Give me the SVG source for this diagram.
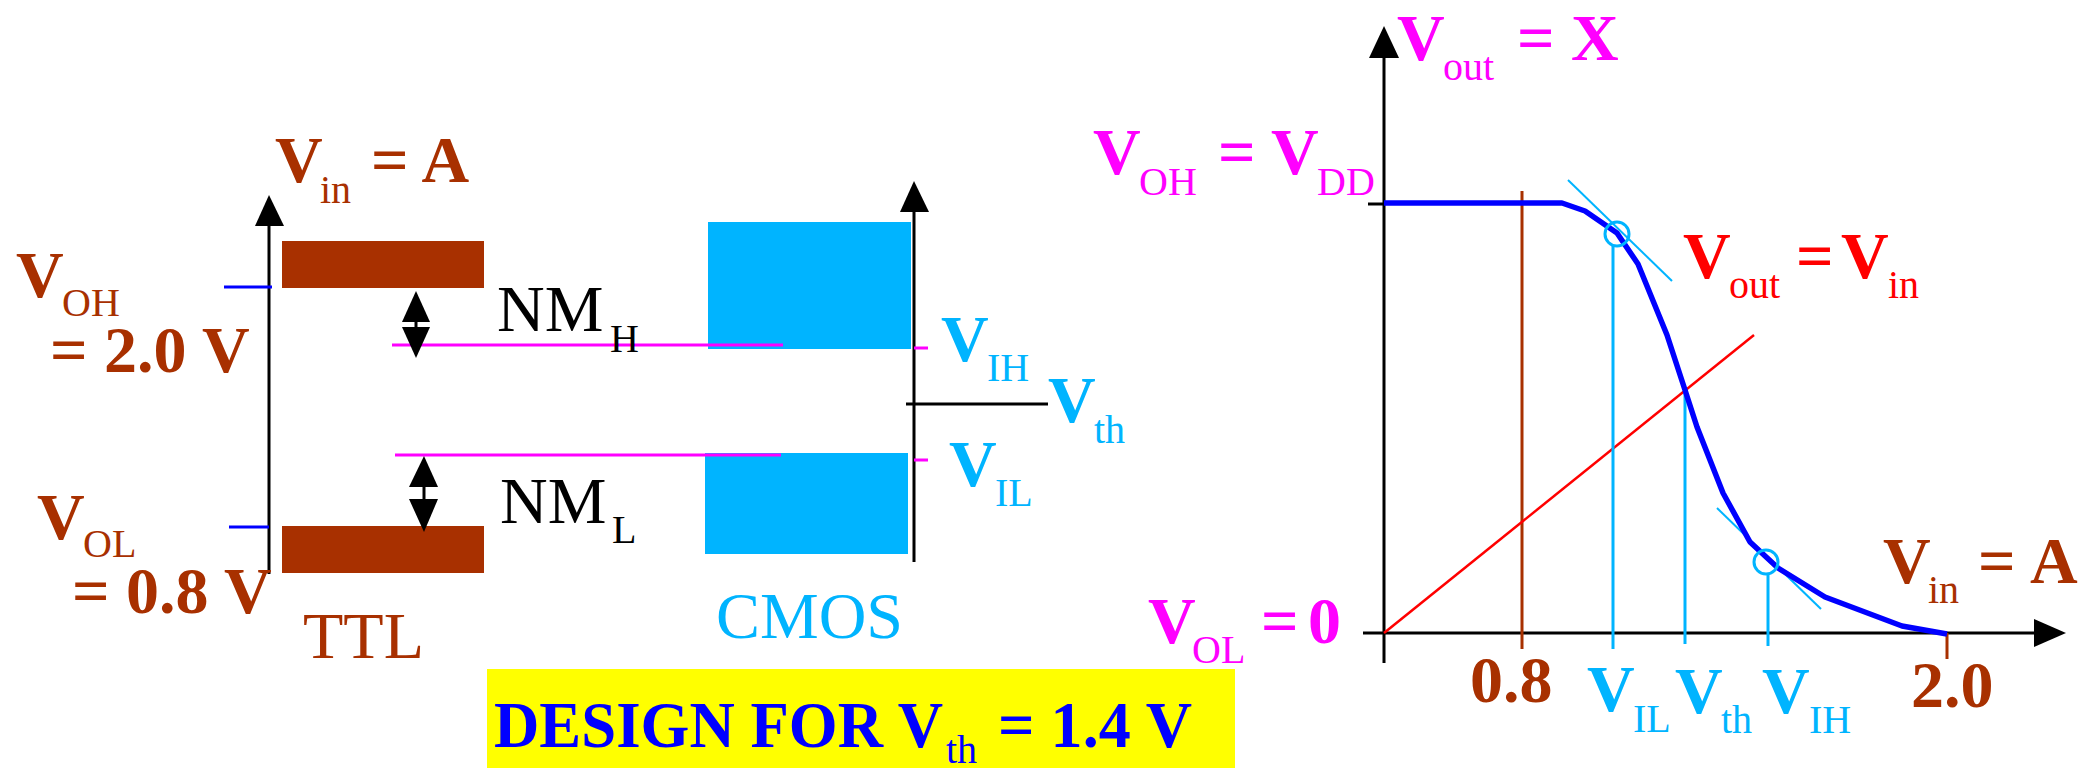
<svg xmlns="http://www.w3.org/2000/svg" width="2080" height="768" viewBox="0 0 2080 768">
<style>
text{font-family:"Liberation Serif","Times New Roman",serif}
.b{font-weight:bold;font-size:66px}
.r{font-size:66px}
.s{font-size:40px}
.brown{fill:#a83000}
.mag{fill:#ff00ff}
.cyan{fill:#00b4ff}
.red{fill:#ff0000}
.blk{fill:#000}
.ax{stroke:#000;stroke-width:3;fill:none}
.ah{fill:#000}
</style>
<rect width="2080" height="768" fill="#fff"/>

<!-- TTL panel -->
<g id="ttl">
  <rect x="282" y="241" width="202" height="47" fill="#a83000"/>
  <rect x="282" y="526" width="202" height="47" fill="#a83000"/>
  <line class="ax" x1="269" y1="224" x2="269" y2="574"/>
  <polygon class="ah" points="269,195 255,226 284,226"/>
  <line x1="224" y1="287" x2="272" y2="287" stroke="#0000ff" stroke-width="3"/>
  <line x1="229" y1="527" x2="269" y2="527" stroke="#0000ff" stroke-width="3"/>
</g>
<g id="cmos">
  <rect x="708" y="222" width="203" height="127" fill="#00b4ff"/>
  <rect x="705" y="453" width="203" height="101" fill="#00b4ff"/>
  <line class="ax" x1="914" y1="210" x2="914" y2="562"/>
  <polygon class="ah" points="914,181 900,212 929,212"/>
  <line x1="914" y1="348" x2="928" y2="348" stroke="#ff00ff" stroke-width="3"/>
  <line x1="914" y1="460" x2="928" y2="460" stroke="#ff00ff" stroke-width="3"/>
  <line x1="906" y1="404" x2="1048" y2="404" stroke="#000" stroke-width="3"/>
</g>

<!-- connectors / noise margins -->
<g id="connectors">
  <line x1="392" y1="345" x2="783" y2="345" stroke="#ff00ff" stroke-width="3"/>
  <line x1="395" y1="455" x2="781" y2="455" stroke="#ff00ff" stroke-width="3"/>
  <g id="nmh-arrow">
    <line x1="416" y1="320" x2="416" y2="329" stroke="#000" stroke-width="3"/>
    <polygon class="ah" points="416,291 402,322 430,322"/>
    <polygon class="ah" points="402,327 430,327 416,358"/>
  </g>
  <g id="nml-arrow">
    <line x1="424" y1="485" x2="424" y2="501" stroke="#000" stroke-width="3"/>
    <polygon class="ah" points="424,456 409,487 438,487"/>
    <polygon class="ah" points="409,499 438,499 424,532"/>
  </g>
</g>

<!-- left labels -->
<g id="lbl-vin-left" class="brown">
  <text><tspan class="b" x="275" y="182">V</tspan><tspan class="s" x="320" y="203">in</tspan><tspan class="b" x="371" y="182">= A</tspan></text>
</g>
<g id="lbl-voh-left" class="brown">
  <text><tspan class="b" x="16" y="297">V</tspan><tspan class="s" x="62" y="316">OH</tspan></text>
  <text class="b" x="50" y="372">= 2.0 V</text>
</g>
<g id="lbl-vol-left" class="brown">
  <text><tspan class="b" x="37" y="539">V</tspan><tspan class="s" x="83" y="557">OL</tspan></text>
  <text class="b" x="72" y="613">= 0.8 V</text>
</g>
<g id="lbl-ttl"><text class="r brown" x="303" y="658">TTL</text></g>
<g id="lbl-nmh" class="blk"><text><tspan class="r" x="497" y="331">NM</tspan><tspan class="s" x="610" y="352">H</tspan></text></g>
<g id="lbl-nml" class="blk"><text><tspan class="r" x="500" y="523">NM</tspan><tspan class="s" x="612" y="543">L</tspan></text></g>
<g id="lbl-cmos"><text class="r cyan" x="716" y="638">CMOS</text></g>
<g id="lbl-vih-mid" class="cyan"><text><tspan class="b" x="941" y="361">V</tspan><tspan class="s" x="987" y="381">IH</tspan></text></g>
<g id="lbl-vth-mid" class="cyan"><text><tspan class="b" x="1048" y="422">V</tspan><tspan class="s" x="1094" y="443">th</tspan></text></g>
<g id="lbl-vil-mid" class="cyan"><text><tspan class="b" x="949" y="486">V</tspan><tspan class="s" x="995" y="506">IL</tspan></text></g>

<g id="design">
  <rect x="487" y="669" width="748" height="99" fill="#ffff00"/>
  <text fill="#0000ff"><tspan class="b" x="494" y="747" textLength="449" lengthAdjust="spacingAndGlyphs">DESIGN FOR V</tspan><tspan class="s" x="946" y="763">th</tspan><tspan class="b" x="998" y="747" textLength="194" lengthAdjust="spacingAndGlyphs">= 1.4 V</tspan></text>
</g>

<!-- right graph -->
<g id="graph">
  <line class="ax" x1="1384" y1="56" x2="1384" y2="663"/>
  <polygon class="ah" points="1384,26 1369,58 1399,58"/>
  <line class="ax" x1="1363" y1="633" x2="2036" y2="633"/>
  <polygon class="ah" points="2066,633 2034,619 2034,647"/>
  <line class="ax" x1="1368" y1="204" x2="1384" y2="204"/>
  <line x1="1522" y1="191" x2="1522" y2="649" stroke="#a83000" stroke-width="3"/>
  <line x1="1947" y1="633" x2="1947" y2="659" stroke="#a83000" stroke-width="3"/>
  <line x1="1384" y1="633" x2="1754" y2="335" stroke="#ff0000" stroke-width="2.5"/>
  <line x1="1613" y1="246" x2="1613" y2="649" stroke="#00b4ff" stroke-width="3"/>
  <line x1="1685" y1="390" x2="1685" y2="644" stroke="#00b4ff" stroke-width="3"/>
  <line x1="1768" y1="574" x2="1768" y2="646" stroke="#00b4ff" stroke-width="3"/>
  <line x1="1568" y1="180" x2="1672" y2="281" stroke="#00b4ff" stroke-width="2"/>
  <line x1="1717" y1="508" x2="1821" y2="609" stroke="#00b4ff" stroke-width="2"/>
  <polyline points="1384,203 1562,203 1585,211 1617,233 1638,264 1667,335 1685,390 1697,427 1723,493 1750,542 1778,568 1825,597 1902,626 1947,634" fill="none" stroke="#0000ff" stroke-width="5.5" stroke-linejoin="round"/>
  <circle cx="1617" cy="234" r="12" fill="none" stroke="#00b4ff" stroke-width="3"/>
  <circle cx="1766" cy="562" r="12" fill="none" stroke="#00b4ff" stroke-width="3"/>
</g>

<g id="lbl-vout" class="mag"><text><tspan class="b" x="1397" y="60">V</tspan><tspan class="s" x="1443" y="80">out</tspan><tspan class="b" x="1517" y="60">= X</tspan></text></g>
<g id="lbl-voh-vdd" class="mag"><text><tspan class="b" x="1093" y="174">V</tspan><tspan class="s" x="1139" y="195">OH</tspan><tspan class="b" x="1218" y="174">=</tspan><tspan class="b" x="1271" y="174">V</tspan><tspan class="s" x="1317" y="195">DD</tspan></text></g>
<g id="lbl-vol-0" class="mag"><text><tspan class="b" x="1148" y="643">V</tspan><tspan class="s" x="1192" y="663">OL</tspan><tspan class="b" x="1261" y="643">=</tspan><tspan class="b" x="1308" y="643">0</tspan></text></g>
<g id="lbl-vout-vin" class="red"><text><tspan class="b" x="1683" y="278">V</tspan><tspan class="s" x="1729" y="298">out</tspan><tspan class="b" x="1796" y="278">=</tspan><tspan class="b" x="1841" y="278">V</tspan><tspan class="s" x="1888" y="298">in</tspan></text></g>
<g id="lbl-vin-right" class="brown"><text><tspan class="b" x="1883" y="583">V</tspan><tspan class="s" x="1928" y="603">in</tspan><tspan class="b" x="1978" y="583">=</tspan><tspan class="b" x="2030" y="583">A</tspan></text></g>
<g id="lbl-08"><text class="b brown" x="1470" y="702">0.8</text></g>
<g id="lbl-20"><text class="b brown" x="1911" y="707">2.0</text></g>
<g id="lbl-vil-axis" class="cyan"><text><tspan class="b" x="1587" y="711">V</tspan><tspan class="s" x="1633" y="732">IL</tspan></text></g>
<g id="lbl-vth-axis" class="cyan"><text><tspan class="b" x="1675" y="713">V</tspan><tspan class="s" x="1721" y="733">th</tspan></text></g>
<g id="lbl-vih-axis" class="cyan"><text><tspan class="b" x="1762" y="713">V</tspan><tspan class="s" x="1809" y="733">IH</tspan></text></g>
</svg>
